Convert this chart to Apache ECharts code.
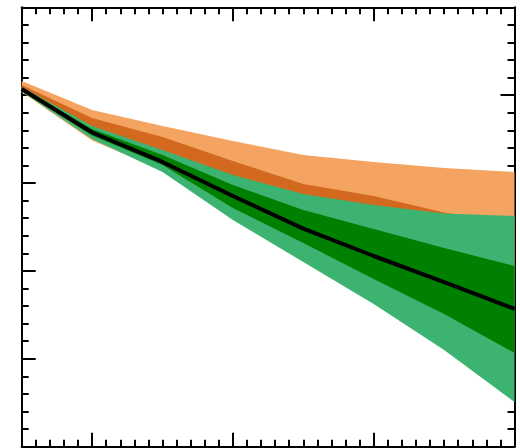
<!DOCTYPE html>
<html>
<head>
<meta charset="UTF-8">
<title>bands</title>
<style>
html,body{margin:0;padding:0;background:#fff;}
#main{width:520px;height:448px;}
</style>
</head>
<body>
<div id="main"></div>
<script src="https://cdn.jsdelivr.net/npm/echarts@6/dist/echarts.min.js"></script>
<script>
// x positions of the band vertices
var xs = [-0.5, 0, 0.5, 1, 1.5, 2, 2.5, 3];

// orange envelope (outer and inner)
var orangeOuterHi = [4.161, 3.831, 3.649, 3.479, 3.319, 3.240, 3.171, 3.126];
var orangeOuterLo = [4.036, 3.484, 3.150, 2.650, 2.250, 1.950, 1.750, 1.600];
var orangeInnerHi = [4.116, 3.740, 3.524, 3.251, 2.989, 2.853, 2.665, 2.540];
var orangeInnerLo = [4.060, 3.560, 3.250, 2.850, 2.500, 2.200, 1.950, 1.800];

// green envelope (outer and inner) and the median line
var greenOuterHi = [4.093, 3.649, 3.376, 3.092, 2.875, 2.750, 2.654, 2.625];
var greenOuterLo = [4.042, 3.501, 3.126, 2.580, 2.102, 1.624, 1.100, 0.509];
var greenInnerHi = [4.082, 3.615, 3.319, 2.978, 2.693, 2.477, 2.261, 2.056];
var greenInnerLo = [4.059, 3.541, 3.206, 2.716, 2.318, 1.908, 1.510, 1.066];
var median = [4.070, 3.575, 3.240, 2.853, 2.482, 2.170, 1.874, 1.567];

// tick values
var xMajorTicks = [0, 1, 2, 3];

var myChart = echarts.init(document.getElementById('main'));

// one band = a polygon between lo and hi, drawn once through the axes
function band(name, lo, hi, color, z){
	var rows = xs.map(function(x, i){ return [x, lo[i], hi[i]]; });
	return {
		name: name,
		type: 'custom',
		coordinateSystem: 'cartesian2d',
		data: rows,
		encode: {x: 0, y: [1, 2]},
		silent: true,
		z: z,
		renderItem: function(params, api){
			if(params.dataIndex !== 0){
				return null;
			}
			var pts = [];
			for(var i = 0; i < rows.length; i++){
				pts.push(api.coord([rows[i][0], rows[i][2]]));
			}
			for(var j = rows.length - 1; j >= 0; j--){
				pts.push(api.coord([rows[j][0], rows[j][1]]));
			}
			return {
				type: 'polygon',
				shape: {points: pts},
				style: {fill: color, stroke: null}
			};
		}
	};
}

var tickStyle = {color: '#000', width: 2};

var series = [
	band('orangeOuter', orangeOuterLo, orangeOuterHi, '#F4A460', 1),
	band('orangeInner', orangeInnerLo, orangeInnerHi, '#D2691E', 2),
	band('greenOuter', greenOuterLo, greenOuterHi, '#3CB371', 3),
	band('greenInner', greenInnerLo, greenInnerHi, '#008000', 4),
	{
		name: 'median',
		type: 'line',
		data: xs.map(function(x, i){ return [x, median[i]]; }),
		showSymbol: false,
		symbol: 'none',
		lineStyle: {color: '#000', width: 4},
		silent: true,
		z: 5
	}
];

function xAxisMajor(pos){
	return {
		type: 'value', position: pos, min: -0.5, max: 3,
		axisLine: {show: true, onZero: false, lineStyle: {color: '#000', width: 2}},
		axisTick: {show: true, inside: true, length: 14, customValues: xMajorTicks, lineStyle: tickStyle},
		axisLabel: {show: false},
		splitLine: {show: false}
	};
}
function xAxisMinor(pos){
	return {
		type: 'value', position: pos, min: -0.5, max: 3, interval: 0.1,
		axisLine: {show: false, onZero: false},
		axisTick: {show: true, inside: true, length: 7, lineStyle: tickStyle},
		axisLabel: {show: false},
		splitLine: {show: false}
	};
}
function yAxisDef(pos){
	return {
		type: 'value', position: pos, min: 0, max: 5, interval: 1,
		axisLine: {show: true, onZero: false, lineStyle: {color: '#000', width: 2}},
		axisTick: {show: true, inside: true, length: 14, lineStyle: tickStyle},
		minorTick: {show: true, splitNumber: 5, length: 7, lineStyle: tickStyle},
		axisLabel: {show: false},
		splitLine: {show: false}
	};
}

myChart.setOption({
	animation: false,
	grid: {left: 21.7, top: 7.3, right: 5.5, bottom: 1.3, containLabel: false},
	xAxis: [xAxisMajor('bottom'), xAxisMinor('bottom'), xAxisMajor('top'), xAxisMinor('top')],
	yAxis: [yAxisDef('left'), yAxisDef('right')],
	series: series
});
</script>
</body>
</html>
